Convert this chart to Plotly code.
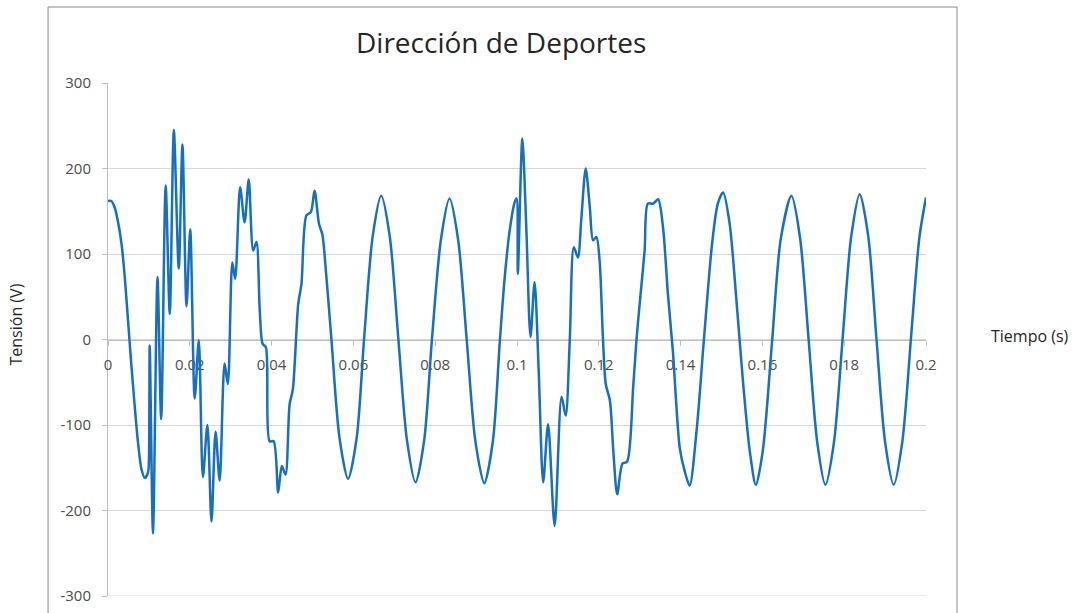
import plotly.graph_objects as go

# ---- data ----
tiempo_s = [
    0.0000, 0.0008, 0.0016, 0.0024, 0.0033, 0.0041, 0.0049, 0.0057, 0.0065, 0.0073,
    0.0082, 0.0090, 0.0098, 0.0100, 0.0102, 0.0110, 0.0121, 0.0130, 0.0141, 0.0151,
    0.0161, 0.0173, 0.0182, 0.0192, 0.0201, 0.0212, 0.0222, 0.0232, 0.0243, 0.0253,
    0.0263, 0.0273, 0.0285, 0.0293, 0.0304, 0.0311, 0.0323, 0.0334, 0.0344, 0.0355,
    0.0363, 0.0371, 0.0378, 0.0386, 0.0395, 0.0405, 0.0416, 0.0425, 0.0434, 0.0444,
    0.0452, 0.0465, 0.0473, 0.0485, 0.0496, 0.0505, 0.0516, 0.0524, 0.0534, 0.0546,
    0.0566, 0.0587, 0.0608, 0.0626, 0.0647, 0.0668, 0.0689, 0.0710, 0.0731, 0.0752,
    0.0773, 0.0792, 0.0814, 0.0835, 0.0856, 0.0877, 0.0898, 0.0920, 0.0941, 0.0958,
    0.0970, 0.0982, 0.0994, 0.0999, 0.1002, 0.1013, 0.1023, 0.1033, 0.1043, 0.1053,
    0.1064, 0.1076, 0.1092, 0.1109, 0.1119, 0.1129, 0.1139, 0.1149, 0.1157, 0.1168,
    0.1178, 0.1186, 0.1194, 0.1202, 0.1210, 0.1217, 0.1227, 0.1236, 0.1245, 0.1258,
    0.1269, 0.1284, 0.1292, 0.1300, 0.1312, 0.1320, 0.1333, 0.1345, 0.1357, 0.1369,
    0.1381, 0.1398, 0.1410, 0.1422, 0.1439, 0.1457, 0.1477, 0.1491, 0.1504, 0.1520,
    0.1536, 0.1553, 0.1569, 0.1584, 0.1601, 0.1624, 0.1645, 0.1671, 0.1692, 0.1713,
    0.1734, 0.1754, 0.1775, 0.1796, 0.1817, 0.1838, 0.1859, 0.1879, 0.1900, 0.1921,
    0.1942, 0.1963, 0.1984, 0.2000,
]
tension_v = [
    162, 162, 155, 139, 112, 73, 22, -29, -76, -119,
    -152, -162, -155, -143, -7, -227, 73, -93, 180, 30,
    245, 83, 228, 39, 129, -69, -1, -161, -100, -213,
    -108, -165, -28, -52, 90, 71, 178, 137, 187, 104,
    114, 34, -5, -9, -119, -119, -179, -148, -158, -76,
    -58, 41, 65, 145, 149, 174, 135, 123, 73, 2,
    -115, -163, -115, 0, 120, 168, 120, 0, -118, -167,
    -118, 0, 117, 165, 117, 0, -118, -168, -119, -2,
    73, 127, 160, 165, 77, 235, 127, 3, 67, -36,
    -167, -99, -218, -67, -89, -1, 108, 96, 139, 200,
    155, 116, 120, 92, 3, -52, -71, -134, -181, -145,
    -143, -56, -1, 42, 104, 159, 159, 164, 131, 53,
    -13, -127, -154, -171, -107, 0, 112, 159, 172, 135,
    49, -52, -130, -170, -130, 0, 118, 168, 119, 0,
    -120, -170, -120, 0, 120, 170, 120, 0, -120, -170,
    -120, 0, 120, 166,
]

x_tick_vals = [0, 0.02, 0.04, 0.06, 0.08, 0.1, 0.12, 0.14, 0.16, 0.18, 0.2]
x_tick_text = ["0", "0.02", "0.04", "0.06", "0.08", "0.1", "0.12", "0.14", "0.16", "0.18", "0.2"]
y_tick_vals = [-300, -200, -100, 0, 100, 200, 300]
y_tick_text = ["-300", "-200", "-100", "0", "100", "200", "300"]

title_text = "Dirección de Deportes"
x_title = "Tiempo (s)"
y_title = "Tensión (V)"

FONT = "Open Sans"
TICK_COLOR = "#4d4d4d"
GRID = "#D9D9D9"

fig = go.Figure()
fig.add_trace(go.Scatter(
    x=tiempo_s, y=tension_v, mode="lines",
    line=dict(color="#1570C2", width=2.5, shape="spline", smoothing=0.8),
    showlegend=False, hoverinfo="x+y",
))

fig.update_layout(
    width=1076, height=613,
    margin=dict(l=108, r=150, t=83, b=17, autoexpand=False),
    paper_bgcolor="white", plot_bgcolor="white",
    font=dict(family=FONT, size=15, color=TICK_COLOR),
    xaxis=dict(
        range=[0, 0.2], tickvals=x_tick_vals, ticktext=x_tick_text,
        showgrid=False, zeroline=False, showline=True, linecolor="#BFBFBF", linewidth=1,
        ticks="outside", ticklen=5, tickcolor="#BFBFBF",
        anchor="free", position=0.5, layer="below traces", automargin=False,
        tickfont=dict(family=FONT, size=15, color=TICK_COLOR),
        ticklabelstandoff=6,
    ),
    yaxis=dict(
        range=[-300, 300], tickvals=y_tick_vals, ticktext=y_tick_text,
        showgrid=True, gridcolor=GRID, gridwidth=1, zeroline=False,
        showline=True, linecolor="#BFBFBF", linewidth=1,
        ticks="outside", ticklen=5, tickcolor="#BFBFBF", layer="below traces",
        automargin=False,
        tickfont=dict(family=FONT, size=15, color=TICK_COLOR),
        ticklabelstandoff=8,
    ),
    shapes=[
        dict(type="rect", xref="paper", yref="paper",
             x0=-0.0733, x1=1.0379, y0=-0.06, y1=1.1481,
             line=dict(color="#8C8C8C", width=1), fillcolor="rgba(0,0,0,0)", layer="below"),
        dict(type="line", xref="paper", yref="y", x0=0, x1=1, y0=-300, y1=-300,
             line=dict(color=GRID, width=1), layer="below"),
    ],
    annotations=[
        dict(text=title_text, xref="paper", yref="paper", x=0.481, y=1.08,
             xanchor="center", yanchor="middle", showarrow=False,
             font=dict(family=FONT, size=28, color="#262626")),
        dict(text=x_title, xref="paper", yref="paper", x=1.127, y=0.507,
             xanchor="center", yanchor="middle", showarrow=False,
             font=dict(family=FONT, size=16, color="#262626")),
        dict(text=y_title, xref="paper", yref="paper", x=-0.112, y=0.530,
             xanchor="center", yanchor="middle", showarrow=False, textangle=-90,
             font=dict(family=FONT, size=16, color="#262626")),
    ],
)

fig.write_html(
    "out.html",
    config={"displayModeBar": False},
    post_script="document.body.style.margin='0';document.body.style.padding='0';",
)
